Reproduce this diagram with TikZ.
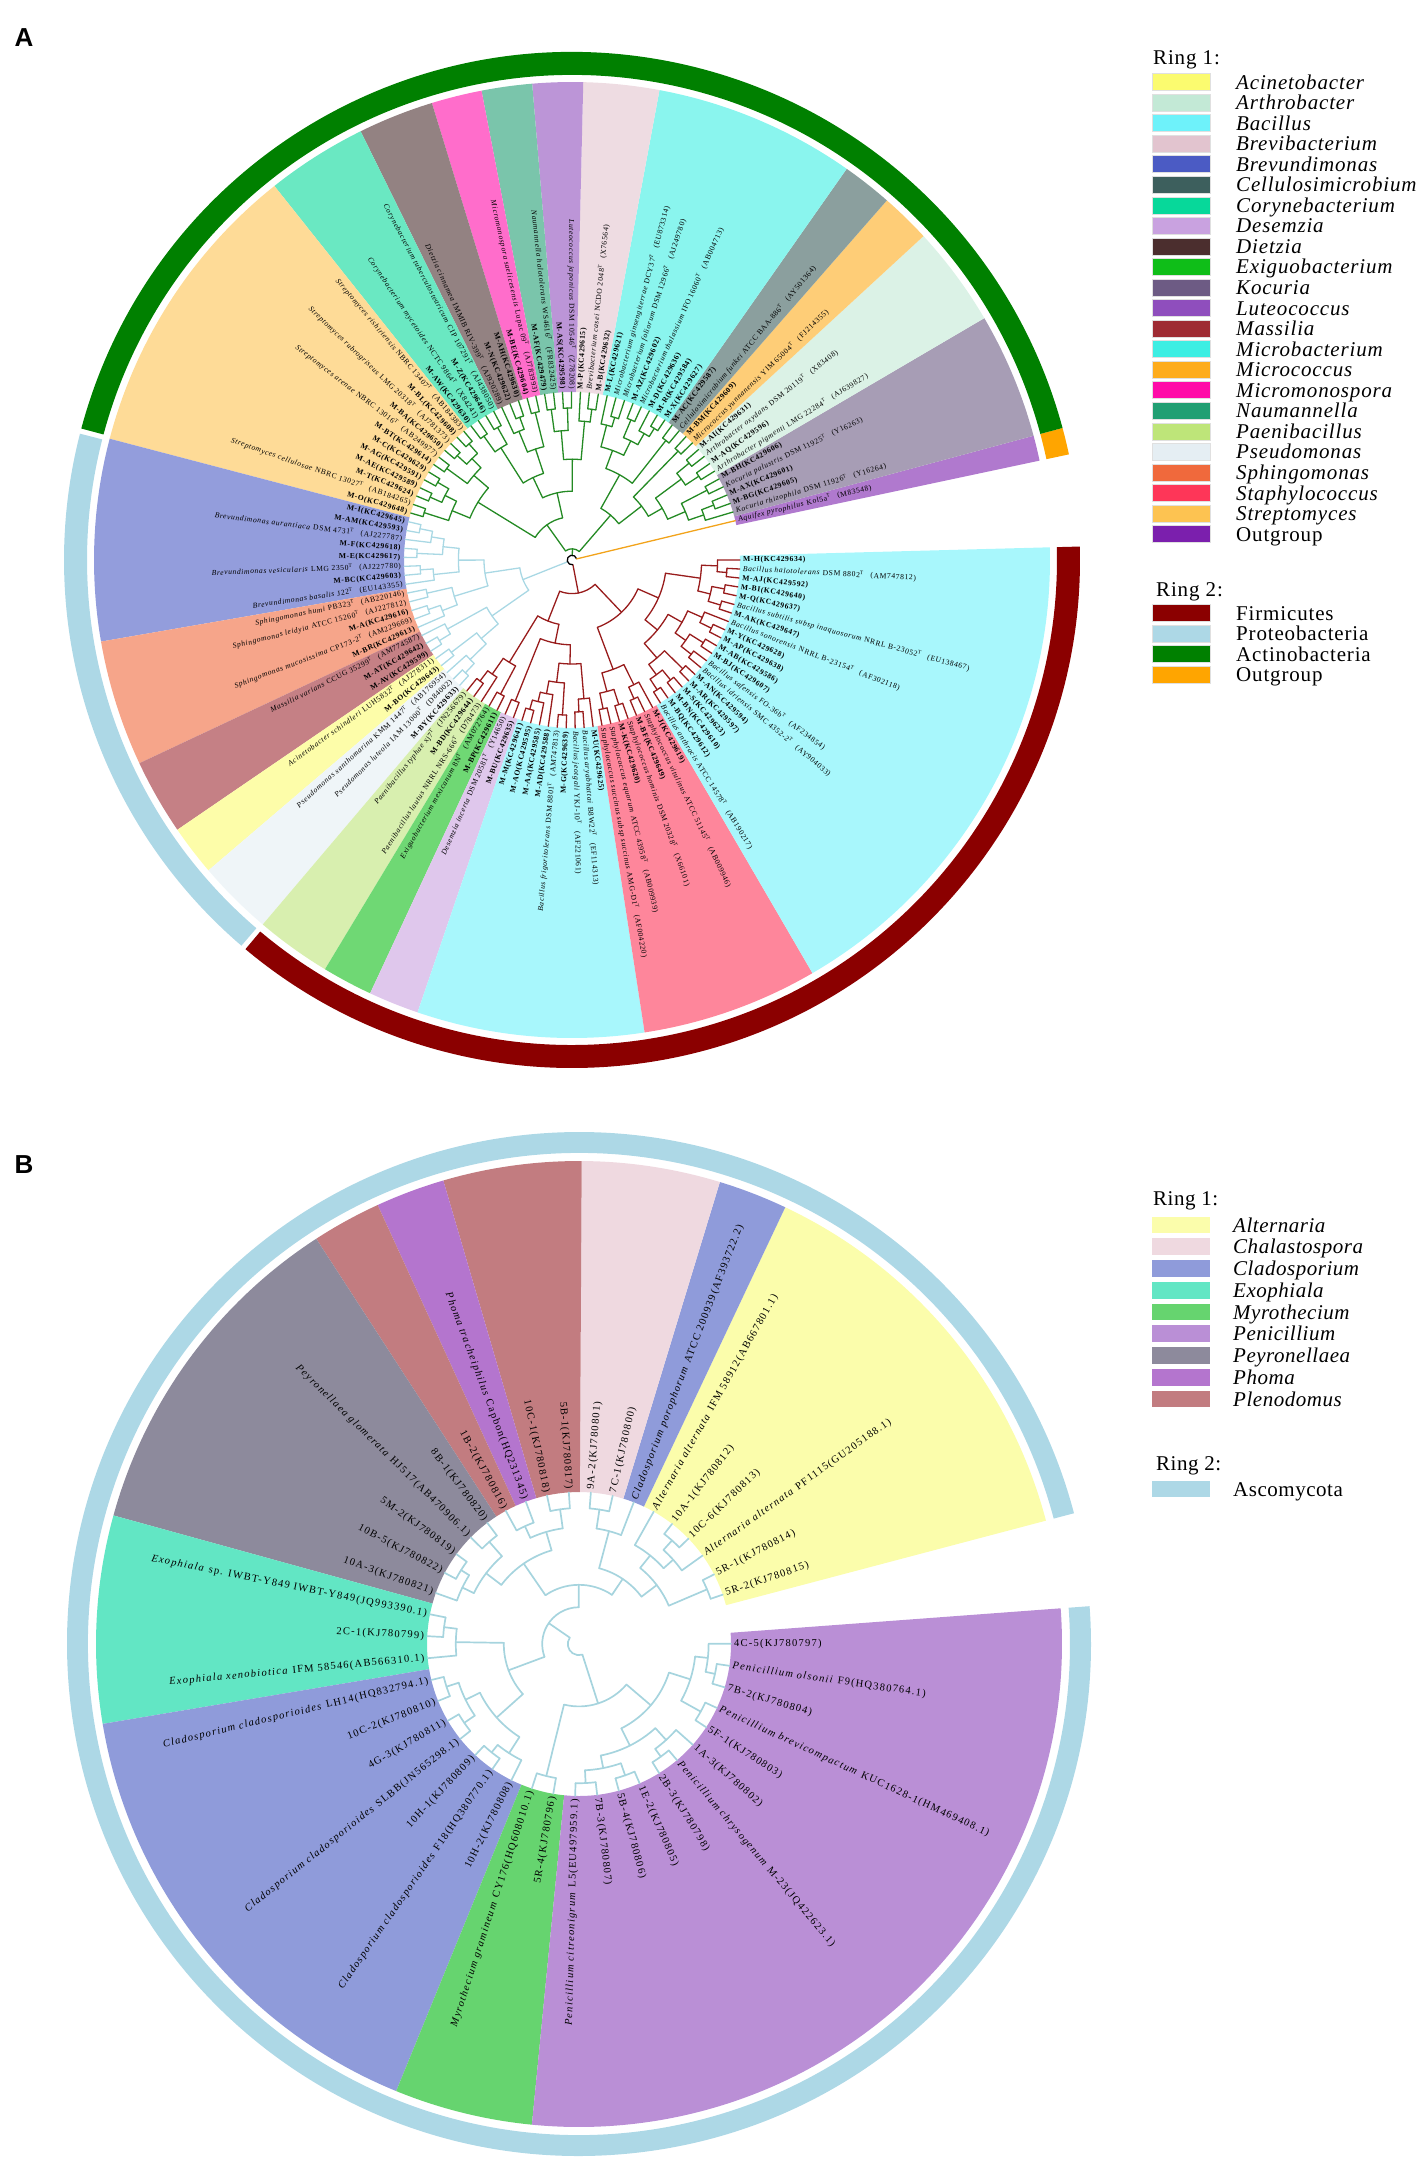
\documentclass[tikz,border=0pt]{standalone}
\usepackage{fontspec}
\setmainfont{Liberation Serif}
\newfontfamily\lblfont[LetterSpace=8]{Liberation Serif}
\newfontfamily\lblfontb[LetterSpace=12]{Liberation Serif}
\newfontfamily\legfont[LetterSpace=2.5]{Liberation Serif}
\newfontfamily\legfontA[LetterSpace=4]{Liberation Serif}
\newfontfamily\panelfont{Liberation Sans}

% ring 1 colours, panel A
\definecolor{cAci}{HTML}{FBFB6F}
\definecolor{cArt}{HTML}{C3E9D6}
\definecolor{cBac}{HTML}{6EF2FA}
\definecolor{cBrb}{HTML}{E2C4CF}
\definecolor{cBrd}{HTML}{4B5BC4}
\definecolor{cCel}{HTML}{3D5F5D}
\definecolor{cCor}{HTML}{07D89A}
\definecolor{cDes}{HTML}{C9A2E0}
\definecolor{cDie}{HTML}{4B2E2E}
\definecolor{cExi}{HTML}{0FBE18}
\definecolor{cKoc}{HTML}{6D5B84}
\definecolor{cLut}{HTML}{8F4EBD}
\definecolor{cMas}{HTML}{9E2B33}
\definecolor{cMib}{HTML}{3CEEE3}
\definecolor{cMic}{HTML}{FEAC1C}
\definecolor{cMim}{HTML}{FF0CA8}
\definecolor{cNau}{HTML}{219F73}
\definecolor{cPae}{HTML}{BEE579}
\definecolor{cPse}{HTML}{E5EEF3}
\definecolor{cSph}{HTML}{F0693C}
\definecolor{cSta}{HTML}{FE3658}
\definecolor{cStr}{HTML}{FDC351}
\definecolor{cOut}{HTML}{7B1FAD}
% ring 2 and branches
\definecolor{ringFir}{HTML}{8B0000}
\definecolor{ringPro}{HTML}{ADD8E6}
\definecolor{ringAct}{HTML}{008000}
\definecolor{ringOut}{HTML}{FFA500}
\definecolor{trAct}{HTML}{248A24}
\definecolor{trPro}{HTML}{A9D8E4}
\definecolor{trFir}{HTML}{981C1C}
\definecolor{trOut}{HTML}{F2A31B}
% panel B
\definecolor{bAlt}{HTML}{FBFDAB}
\definecolor{bCha}{HTML}{EFD9E0}
\definecolor{bCla}{HTML}{8F9BDA}
\definecolor{bExo}{HTML}{62E6C4}
\definecolor{bMyr}{HTML}{66D46F}
\definecolor{bPen}{HTML}{BA8FD6}
\definecolor{bPey}{HTML}{8D8A9C}
\definecolor{bPho}{HTML}{B475CE}
\definecolor{bPle}{HTML}{C27C80}
\definecolor{ringAsc}{HTML}{ADD8E6}
\definecolor{trAsc}{HTML}{A6D4DE}

\newcommand{\spc}[1]{\textit{#1}}
\newcommand{\stn}[1]{\textbf{#1}}
\newcommand{\supT}{\smash{\textsuperscript{T}}}
\newcommand{\acc}[1]{\hspace{0.9em}(#1)}

\newcommand{\annul}[5]{\fill[fill=#1] (#2:#4) arc[start angle=#2,end angle=#3,radius=#4] -- (#3:#5) arc[start angle=#3,end angle=#2,radius=#5] -- cycle;}

\newcommand{\sectors}[3]{%
 \foreach \pa/\pb/\col in {#3}{%
  \pgfmathsetmacro\angA{\angoff+\angstep*(\pa-1)}%
  \pgfmathsetmacro\angB{\angoff+\angstep*\pb}%
  \annul{\col!#2!white}{\angA}{\angB}{\tipr}{#1}}}

\newcommand{\cladearcs}[2]{%
 \foreach \pa/\pb/\rn/\rp in {#2}{%
  \pgfmathsetmacro\angA{\angoff+\angstep*(\pa-0.5)}%
  \pgfmathsetmacro\angB{\angoff+\angstep*(\pb-0.5)}%
  \pgfmathsetmacro\angM{(\angA+\angB)/2}%
  \pgfmathsetmacro\radN{\tipr-1.6*(168-\rn)}%
  \pgfmathsetmacro\radP{\tipr-1.6*(168-\rp)}%
  \draw[#1] (\angA:\radN) arc[start angle=\angA,end angle=\angB,radius=\radN];
  \draw[#1] (\angM:\radN) -- (\angM:\radP);}}

\newcommand{\leafstems}[2]{%
 \foreach \pa/\rp in {#2}{%
  \pgfmathsetmacro\angA{\angoff+\angstep*(\pa-0.5)}%
  \pgfmathsetmacro\radP{\tipr-1.6*(168-\rp)}%
  \draw[#1] (\angA:\radP) -- (\angA:\tipr);}}

\newcommand{\leaflabels}[3]{%
 \foreach \lab [count=\idx] in {#3}{%
  \pgfmathsetmacro\angA{\angoff+\angstep*(\idx-0.5)}%
  \pgfmathsetmacro\radL{\tipr+3}%
  \pgfmathtruncatemacro\flip{and(\angA>90,\angA<270)}%
  \ifnum\flip=1
   \node[#1,anchor=east,rotate=\angA+180] (#2\idx) at (\angA:\radL) {\lab};
  \else
   \node[#1,anchor=west,rotate=\angA] (#2\idx) at (\angA:\radL) {\lab};
  \fi}}

\tikzset{
 lblA/.style={inner sep=0pt,font=\lblfont\fontsize{7.6}{8}\selectfont},
 lblB/.style={inner sep=0pt,font=\lblfontb\fontsize{10.5}{11}\selectfont},
 legtxt/.style={anchor=base west,inner sep=0pt,font=\legfont\fontsize{21}{22}\selectfont},
 legtxtA/.style={legtxt,font=\legfontA\fontsize{21}{22}\selectfont},
 swatch/.style={draw=black!12,line width=0.6pt},
 panel/.style={font=\panelfont\bfseries\fontsize{26}{28}\selectfont},
 branch/.style={line width=1.3pt,line cap=round},
 branchB/.style={line width=1.7pt,line cap=round,trAsc}
}

\begin{document}
\begin{tikzpicture}[x=1pt,y=1pt]
\path[use as bounding box] (0,0) rectangle (1418,-2182);

\node[panel] (pA) at (24,-38) {A};
\node[panel] (pB) at (24,-1165) {B};

%% panel A
\begin{scope}[shift={(572,-560)}]
\def\angoff{12}\def\angstep{3.066}\def\tipr{168}
\sectors{478}{60}{1/1/cOut, 2/6/cKoc, 7/10/cArt, 11/12/cMic, 13/14/cCel, 15/22/cMib,
 23/25/cBrb, 26/27/cLut, 28/29/cNau, 30/31/cMim, 32/34/cDie, 35/38/cCor, 39/50/cStr,
 51/58/cBrd, 59/63/cSph, 64/66/cMas, 67/68/cAci, 69/71/cPse, 72/74/cPae, 75/76/cExi,
 77/78/cDes, 79/87/cBac, 88/94/cSta, 95/114/cBac}
\annul{ringOut}{12}{15.07}{485}{508}
\annul{ringAct}{15.07}{165.0}{485}{508}
\annul{ringPro}{165.6}{229.4}{485}{508}
\annul{ringFir}{230.0}{361.52}{485}{508}

\cladearcs{branch,trAct}{3/4/158/150, 2/3.5/150/140, 5/6/158/140, 2.75/5.5/140/128,
 7/8/158/148, 9/10/158/148, 7.5/9.5/148/128, 4.125/8.5/128/118, 11/12/158/118,
 6.3125/11.5/118/100, 13/14/158/124, 15/16/160/154, 15.5/17/154/146, 18/19/158/146,
 16.25/18.5/146/136, 20/21/156/150, 20.5/22/150/136, 17.375/21.25/136/124,
 13.5/19.3125/124/100, 8.90625/16.40625/100/70, 23/24/158/150, 23.5/25/150/126,
 26/27/158/144, 28/29/158/144, 26.5/28.5/144/126, 24.25/27.5/126/106, 30/31/158/136,
 32/33/158/150, 32.5/34/150/136, 30.5/33.25/136/120, 35/36/158/146, 37/38/158/146,
 35.5/37.5/146/120, 31.875/36.5/120/106, 25.875/34.1875/106/90, 39/40/160/152,
 41/42/160/152, 39.5/41.5/152/144, 43/44/160/144, 40.5/43.5/144/132, 45/46/160/152,
 47/48/160/152, 45.5/47.5/152/144, 49/50/160/144, 46.5/49.5/144/132, 42/48/132/90,
 30.03125/45/90/70, 12.65625/37.515625/70/66}
\cladearcs{branch,trPro}{51/52/160/152, 51.5/53/152/144, 54/55/160/144, 52.25/54.5/144/134,
 56/57/158/150, 56.5/58/150/134, 53.375/57.25/134/118, 59/60/156/140, 61/62/158/150,
 61.5/63/150/140, 59.5/62.25/140/118, 55.3125/60.875/118/96, 65/66/160/152,
 64/65.5/152/124, 67/68/158/138, 70/71/160/152, 69/70.5/152/138, 67.5/69.75/138/124,
 64.75/68.625/124/96, 58.09375/66.6875/96/66}
\cladearcs{branch,trFir}{72/73/158/150, 72.5/74/150/138, 75/76/158/138, 73.25/75.5/138/104,
 77/78/158/116, 79/80/160/154, 79.5/81/154/148, 80.25/82/148/140, 83/84/160/140,
 81.125/83.5/140/128, 85/86/158/150, 85.5/87/150/128, 82.3125/86.25/128/116,
 77.5/84.28125/116/104, 74.375/80.890625/104/84, 88/89/158/148, 90/91/158/148,
 88.5/90.5/148/136, 92/93/158/150, 92.5/94/150/136, 89.5/93.25/136/108, 95/96/160/152,
 97/98/160/152, 95.5/97.5/152/144, 99/100/160/144, 96.5/99.5/144/132, 101/102/158/150,
 103/104/160/150, 101.5/103.5/150/142, 105/106/160/152, 105.5/107/152/142,
 102.5/106.25/142/132, 98/104.375/132/122, 108/109/160/152, 110/111/160/152,
 108.5/110.5/152/144, 112/113/160/154, 112.5/114/154/144, 109.5/113.25/144/122,
 101.1875/111.375/122/108, 91.375/106.28125/108/84, 77.6328125/98.828125/84/66}
\cladearcs{line width=1.3pt,black}{1/88.23/66/66}

\leafstems{branch,trOut}{1/66}
\leafstems{branch,trAct}{2/150, 3/158, 4/158, 5/158, 6/158, 7/158, 8/158, 9/158, 10/158,
 11/158, 12/158, 13/158, 14/158, 15/160, 16/160, 17/154, 18/158, 19/158, 20/156, 21/156,
 22/150, 23/158, 24/158, 25/150, 26/158, 27/158, 28/158, 29/158, 30/158, 31/158, 32/158,
 33/158, 34/150, 35/158, 36/158, 37/158, 38/158, 39/160, 40/160, 41/160, 42/160, 43/160,
 44/160, 45/160, 46/160, 47/160, 48/160, 49/160, 50/160}
\leafstems{branch,trPro}{51/160, 52/160, 53/152, 54/160, 55/160, 56/158, 57/158, 58/150,
 59/156, 60/156, 61/158, 62/158, 63/150, 64/152, 65/160, 66/160, 67/158, 68/158, 69/152,
 70/160, 71/160}
\leafstems{branch,trFir}{72/158, 73/158, 74/150, 75/158, 76/158, 77/158, 78/158, 79/160,
 80/160, 81/154, 82/148, 83/160, 84/160, 85/158, 86/158, 87/150, 88/158, 89/158, 90/158,
 91/158, 92/158, 93/158, 94/150, 95/160, 96/160, 97/160, 98/160, 99/160, 100/160, 101/158,
 102/158, 103/160, 104/160, 105/160, 106/160, 107/152, 108/160, 109/160, 110/160, 111/160,
 112/160, 113/160, 114/154}

\leaflabels{lblA}{la}{
{\spc{Aquifex pyrophilus} Kol5a\supT\acc{M83548}},
{\spc{Kocuria rhizophila} DSM 11926\supT\acc{Y16264}},
{\stn{M-BG(KC429605)}},
{\stn{M-AX(KC429601)}},
{\spc{Kocuria palustris} DSM 11925\supT\acc{Y16263}},
{\stn{M-BH(KC429606)}},
{\spc{Arthrobacter pigmenti} LMG 22284\supT\acc{AJ639827}},
{\stn{M-AQ(KC429596)}},
{\spc{Arthrobacter oxydans} DSM 20119\supT\acc{X83408}},
{\stn{M-AI(KC429631)}},
{\spc{Micrococcus yunnanensis} YIM 65004\supT\acc{FJ214355}},
{\stn{M-BM(KC429609)}},
{\spc{Cellulosimicrobium funkei} ATCC BAA-886\supT\acc{AY501364}},
{\stn{M-AC(KC429587)}},
{\stn{M-X(KC429627)}},
{\stn{M-R(KC429584)}},
{\stn{M-D(KC429636)}},
{\spc{Microbacterium thalassium} IFO 16060\supT\acc{AB004713}},
{\stn{M-AZ(KC429602)}},
{\spc{Microbacterium foliorum} DSM 12966\supT\acc{AJ249780}},
{\spc{Microbacterium ginsengiterrae} DCY37\supT\acc{EU873314}},
{\stn{M-L(KC429621)}},
{\stn{M-B(KC429632)}},
{\spc{Brevibacterium casei} NCDO 2048\supT\acc{X76564}},
{\stn{M-P(KC429615)}},
{\spc{Luteococcus japonicus} DSM 10546\supT\acc{Z78208}},
{\stn{M-AS(KC429598)}},
{\spc{Naumannella halotolerans} WS4616\supT\acc{FR832425}},
{\stn{M-AF(KC429479)}},
{\spc{Micromonospora saelicesensis} Lupac 09\supT\acc{AJ783993}},
{\stn{M-BE(KC429604)}},
{\stn{M-AH(KC429630)}},
{\stn{M-N(KC429622)}},
{\spc{Dietzia cinnamea} IMMIB RIV-399\supT\acc{AJ920289}},
{\spc{Corynebacterium tuberculostearicum} CIP 107291\supT\acc{AJ438050}},
{\stn{M-Z(KC429646)}},
{\spc{Corynebacterium mycetoides} NCTC 9864\supT\acc{X84241}},
{\stn{M-AW(KC429630)}},
{\spc{Streptomyces rishiriensis} NBRC 13407\supT\acc{AB184383}},
{\stn{M-BL(KC429608)}},
{\spc{Streptomyces rubrogriseus} LMG 20318\supT\acc{AJ781373}},
{\stn{M-BA(KC429650)}},
{\spc{Streptomyces arenae} NBRC 13016\supT\acc{AB249977}},
{\stn{M-BT(KC429614)}},
{\stn{M-C(KC429629)}},
{\stn{M-AG(KC429591)}},
{\stn{M-AE(KC429589)}},
{\stn{M-T(KC429624)}},
{\spc{Streptomyces cellulosae} NBRC 13027\supT\acc{AB184265}},
{\stn{M-O(KC429648)}},
{\stn{M-I(KC429645)}},
{\stn{M-AM(KC429593)}},
{\spc{Brevundimonas aurantiaca} DSM 4731\supT\acc{AJ227787}},
{\stn{M-F(KC429618)}},
{\stn{M-E(KC429617)}},
{\spc{Brevundimonas vesicularis} LMG 2350\supT\acc{AJ227780}},
{\stn{M-BC(KC429603)}},
{\spc{Brevundimonas basalis} J22\supT\acc{EU143355}},
{\spc{Sphingomonas humi} PB323\supT\acc{AB220146}},
{\spc{Sphingomonas leidyia} ATCC 15260\supT\acc{AJ227812}},
{\stn{M-A(KC429616)}},
{\spc{Sphingomonas mucosissima} CP173-2\supT\acc{AM229669}},
{\stn{M-BR(KC429613)}},
{\spc{Massilia varians} CCUG 35299\supT\acc{AM774587}},
{\stn{M-AT(KC429642)}},
{\stn{M-AV(KC429599)}},
{\spc{Acinetobacter schindleri} LUH5832\supT\acc{AJ278311}},
{\stn{M-BO(KC429643)}},
{\spc{Pseudomonas xanthomarina} KMM 1447\supT\acc{AB176954}},
{\spc{Pseudomonas luteola} IAM 13000\supT\acc{D84002}},
{\stn{M-BY(KC429633)}},
{\spc{Paenibacillus typhae} xj7\supT\acc{JN256679}},
{\stn{M-BD(KC429644)}},
{\spc{Paenibacillus lautus} NRRL NRS-666\supT\acc{D78473}},
{\spc{Exiguobacterium mexicanum} 8N\supT\acc{AM072764}},
{\stn{M-BP(KC429611)}},
{\spc{Desemzia incerta} DSM 20581\supT\acc{Y14650}},
{\stn{M-BU(KC429635)}},
{\stn{M-M(KC429641)}},
{\stn{M-AO(KC429595)}},
{\stn{M-AA(KC429585)}},
{\stn{M-AD(KC429588)}},
{\spc{Bacillus frigoritolerans} DSM 8801\supT\acc{AM747813}},
{\stn{M-G(KC429639)}},
{\spc{Bacillus jeotgali} YKJ-10\supT\acc{AF221061}},
{\spc{Bacillus aryabhattai} B8W22\supT\acc{EF114313}},
{\stn{M-U(KC429625)}},
{\spc{Staphylococcus succinus subsp succinus} AMG-D1\supT\acc{AF004220}},
{\spc{Staphylococcus equorum} ATCC 43958\supT\acc{AB009939}},
{\stn{M-K(KC429620)}},
{\spc{Staphylococcus hominis} DSM 20328\supT\acc{X66101}},
{\stn{M-BF(KC429649)}},
{\spc{Staphylococcus vitulinus} ATCC 51145\supT\acc{AB009946}},
{\stn{M-J(KC429619)}},
{\spc{Bacillus anthracis} ATCC 14578\supT\acc{AB190217}},
{\stn{M-BQ(KC429612)}},
{\stn{M-BN(KC429610)}},
{\stn{M-S(KC429623)}},
{\stn{M-AR(KC429597)}},
{\stn{M-AN(KC429594)}},
{\spc{Bacillus idriensis} SMC 4352-2\supT\acc{AY904033}},
{\spc{Bacillus safensis} FO-36b\supT\acc{AF234854}},
{\stn{M-BJ(KC429607)}},
{\stn{M-AB(KC429586)}},
{\stn{M-AP(KC429638)}},
{\stn{M-Y(KC429628)}},
{\spc{Bacillus sonorensis} NRRL B-23154\supT\acc{AF302118}},
{\stn{M-AK(KC429647)}},
{\spc{Bacillus subtilis subsp inaquosorum} NRRL B-23052\supT\acc{EU138467}},
{\stn{M-Q(KC429637)}},
{\stn{M-BI(KC429640)}},
{\stn{M-AJ(KC429592)}},
{\spc{Bacillus halotolerans} DSM 8802\supT\acc{AM747812}},
{\stn{M-H(KC429634)}}}
\end{scope}

%% legend A
\node[legtxtA] (lgA0) at (1153,-64) {Ring 1:};
\foreach \col/\name [count=\idx] in {cAci/Acinetobacter, cArt/Arthrobacter, cBac/Bacillus,
 cBrb/Brevibacterium, cBrd/Brevundimonas, cCel/Cellulosimicrobium, cCor/Corynebacterium,
 cDes/Desemzia, cDie/Dietzia, cExi/Exiguobacterium, cKoc/Kocuria, cLut/Luteococcus,
 cMas/Massilia, cMib/Microbacterium, cMic/Micrococcus, cMim/Micromonospora,
 cNau/Naumannella, cPae/Paenibacillus, cPse/Pseudomonas, cSph/Sphingomonas,
 cSta/Staphylococcus, cStr/Streptomyces}{
 \pgfmathsetmacro\ly{-82-20.55*(\idx-1)}
 \draw[swatch,fill=\col] (1152,\ly-8.5) rectangle (1210,\ly+8.5);
 \node[legtxtA] (lgA\idx) at (1236,\ly-7) {\textit{\name}};
}
\draw[swatch,fill=cOut] (1152,-534-8.5) rectangle (1210,-534+8.5);
\node[legtxtA] (lgAo) at (1236,-541) {Outgroup};
\node[legtxtA] (lgR2) at (1156,-596) {Ring 2:};
\foreach \col/\name [count=\idx] in {ringFir/Firmicutes, ringPro/Proteobacteria,
 ringAct/Actinobacteria, ringOut/Outgroup}{
 \pgfmathsetmacro\ly{-613-20.55*(\idx-1)}
 \draw[swatch,fill=\col] (1152,\ly-8.5) rectangle (1210,\ly+8.5);
 \node[legtxtA] (lgP\idx) at (1236,\ly-7) {\name};
}

%% panel B
\begin{scope}[shift={(579,-1644)}]
\def\angoff{14.8}\def\angstep{8.32}\def\tipr{152}
\sectors{483}{100}{1/6/bAlt, 7/7/bCla, 8/9/bCha, 10/11/bPle, 12/12/bPho, 13/13/bPle,
 14/18/bPey, 19/21/bExo, 22/28/bCla, 29/30/bMyr, 31/42/bPen}
\annul{ringAsc}{14.8}{364.24}{491}{512}

\cladearcs{branchB}{1/2/160/134, 4/5/160/152, 3/4.5/152/144, 3.75/6/144/134,
 1.5/4.875/134/122, 8/9/158/146, 7/8.5/146/122, 3.1875/7.75/122/110, 10/11/158/146,
 12/13/154/146, 10.5/12.5/146/134, 14/15/158/146, 16/17/160/154, 16.5/18/154/146,
 14.5/17.25/146/134, 11.5/15.875/134/110, 5.46875/13.6875/110/96, 19/20/158/150,
 19.5/21/150/120, 22/23/160/152, 24/25/160/152, 22.5/24.5/152/142, 26/27/160/154,
 26.5/28/154/142, 23.5/27.25/142/120, 20.25/25.375/120/96, 9.578125/22.8125/96/80,
 29/30/158/112, 31/32/160/152, 33/34/160/152, 31.5/33.5/152/144, 35/36/160/154,
 35.5/37/154/144, 32.5/36.25/144/132, 38/39/160/146, 40/41/160/154, 40.5/42/154/146,
 38.5/41.25/146/132, 34.375/39.875/132/112, 29.5/37.125/112/80,
 16.1953125/33.3125/80/80}
\leafstems{branchB}{1/160, 2/160, 3/152, 4/160, 5/160, 6/144, 7/146, 8/158, 9/158,
 10/158, 11/158, 12/154, 13/154, 14/158, 15/158, 16/160, 17/160, 18/154, 19/158, 20/158,
 21/150, 22/160, 23/160, 24/160, 25/160, 26/160, 27/160, 28/154, 29/158, 30/158, 31/160,
 32/160, 33/160, 34/160, 35/160, 36/160, 37/154, 38/160, 39/160, 40/160, 41/160, 42/154}

\leaflabels{lblB}{lb}{
{5R-2(KJ780815)},
{5R-1(KJ780814)},
{\spc{Alternaria alternata} PF1115(GU205188.1)},
{10C-6(KJ780813)},
{10A-1(KJ780812)},
{\spc{Alternaria alternata} IFM 58912(AB667801.1)},
{\spc{Cladosporium porophorum} ATCC 200939(AF393722.2)},
{7C-1(KJ780800)},
{9A-2(KJ780801)},
{5B-1(KJ780817)},
{10C-1(KJ780818)},
{\spc{Phoma tracheiphilus} Capbon(HQ231345)},
{1B-2(KJ780816)},
{8B-1(KJ780820)},
{\spc{Peyronellaea glomerata} HJ517(AB470906.1)},
{5M-2(KJ780819)},
{10B-5(KJ780822)},
{10A-3(KJ780821)},
{\spc{Exophiala} sp. IWBT-Y849 IWBT-Y849(JQ993390.1)},
{2C-1(KJ780799)},
{\spc{Exophiala xenobiotica} IFM 58546(AB566310.1)},
{\spc{Cladosporium cladosporioides} LH14(HQ832794.1)},
{10C-2(KJ780810)},
{4G-3(KJ780811)},
{\spc{Cladosporium cladosporioides} SLBB(JN565298.1)},
{10H-1(KJ780809)},
{\spc{Cladosporium cladosporioides} F18(HQ380770.1)},
{10H-2(KJ780808)},
{\spc{Myrothecium gramineum} CY176(HQ608010.1)},
{5R-4(KJ780796)},
{\spc{Penicillium citreonigrum} L5(EU497959.1)},
{7B-3(KJ780807)},
{5B-4(KJ780806)},
{1E-2(KJ780805)},
{2B-3(KJ780798)},
{\spc{Penicillium chrysogenum} M-23(JQ422623.1)},
{1A-3(KJ780802)},
{5F-1(KJ780803)},
{\spc{Penicillium brevicompactum} KUC1628-1(HM469408.1)},
{7B-2(KJ780804)},
{\spc{Penicillium olsonii} F9(HQ380764.1)},
{4C-5(KJ780797)}}
\end{scope}

%% legend B
\node[legtxt] (lgB0) at (1153,-1205) {Ring 1:};
\foreach \col/\name [count=\idx] in {bAlt/Alternaria, bCha/Chalastospora, bCla/Cladosporium,
 bExo/Exophiala, bMyr/Myrothecium, bPen/Penicillium, bPey/Peyronellaea, bPho/Phoma,
 bPle/Plenodomus}{
 \pgfmathsetmacro\ly{-1225-21.75*(\idx-1)}
 \draw[draw=none,fill=\col] (1152,\ly-8.3) rectangle (1210,\ly+8.3);
 \node[legtxt] (lgB\idx) at (1233,\ly-7) {\textit{\name}};
}
\node[legtxt] (lgB10) at (1156,-1470) {Ring 2:};
\fill[ringAsc] (1152,-1489-8.3) rectangle (1210,-1489+8.3);
\node[legtxt] (lgB11) at (1233,-1496) {Ascomycota};
\end{tikzpicture}
\end{document}
